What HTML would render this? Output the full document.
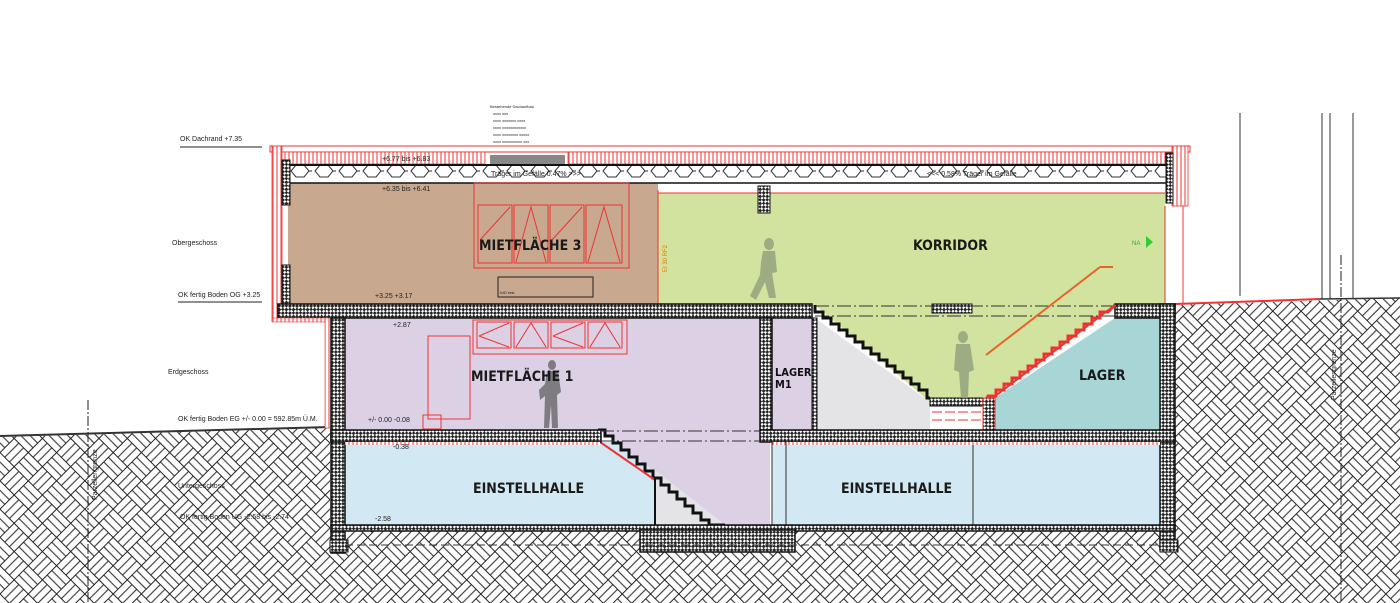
<!DOCTYPE html>
<html><head><meta charset="utf-8"><style>
html,body{margin:0;padding:0;background:#fff;}
svg{display:block;font-family:"Liberation Sans",sans-serif;}
.lb{font-size:7px;fill:#222}
.rm{font-family:"DejaVu Sans Condensed","Liberation Sans",sans-serif;font-size:14px;font-weight:bold;fill:#1a1a1a}
</style></head><body>
<svg width="1400" height="603" viewBox="0 0 1400 603" xmlns="http://www.w3.org/2000/svg">
<defs>
<pattern id="earth" width="40" height="40" patternUnits="userSpaceOnUse" patternTransform="rotate(45)">
<rect width="40" height="40" fill="#fff"/>
<g stroke="#222" stroke-width="1" fill="none">
<rect x="0" y="0" width="20" height="20"/><rect x="20" y="20" width="20" height="20"/>
<rect x="20" y="0" width="20" height="20"/><rect x="0" y="20" width="20" height="20"/>
<line x1="0" y1="6.7" x2="20" y2="6.7"/><line x1="0" y1="13.3" x2="20" y2="13.3"/>
<line x1="20" y1="26.7" x2="40" y2="26.7"/><line x1="20" y1="33.3" x2="40" y2="33.3"/>
<line x1="26.7" y1="0" x2="26.7" y2="20"/><line x1="33.3" y1="0" x2="33.3" y2="20"/>
<line x1="6.7" y1="20" x2="6.7" y2="40"/><line x1="13.3" y1="20" x2="13.3" y2="40"/>
</g></pattern>
<pattern id="conc" width="5" height="5" patternUnits="userSpaceOnUse" patternTransform="rotate(45)">
<rect width="5" height="5" fill="#fff"/><rect width="2.8" height="2.8" fill="#222"/><rect x="2.5" y="2.5" width="2.8" height="2.8" fill="#222"/>
</pattern>
<pattern id="ins" width="4" height="10" patternUnits="userSpaceOnUse">
<rect width="4" height="10" fill="#fff"/><line x1="1" y1="0" x2="1" y2="10" stroke="#e33" stroke-width="1"/>
</pattern>
<pattern id="hex" width="24" height="18" patternUnits="userSpaceOnUse">
<polygon points="3,9 8,3 16,3 21,9 16,15 8,15" fill="none" stroke="#333" stroke-width="1"/>
<line x1="21" y1="9" x2="27" y2="9" stroke="#333"/>
</pattern>
</defs>

<polygon points="0,437 330,428 330,603 0,603" fill="url(#earth)"/>
<polygon points="1175,305 1400,298 1400,603 1175,603" fill="url(#earth)"/>
<rect x="330" y="530" width="845" height="73" fill="url(#earth)"/>
<line x1="0" y1="436" x2="330" y2="427" stroke="#333" stroke-width="2"/>
<line x1="1175" y1="304" x2="1320" y2="299" stroke="#e33" stroke-width="2"/>
<line x1="1320" y1="299" x2="1400" y2="298" stroke="#333" stroke-width="1.5"/>

<rect x="288" y="183" width="370" height="121" fill="#c8a88e"/>
<polygon points="658,193 1165,193 1165,305 1115,305 985,402 930,402 815,305 658,305" fill="#d1e39e"/>
<rect x="345" y="318" width="415" height="112" fill="#dcd1e4"/>
<rect x="772" y="318" width="40" height="112" fill="#dcd1e4"/>
<polygon points="815,318 930,402 930,430 815,430" fill="#e4e4e7"/>
<polygon points="995,398 1115,318 1160,318 1160,430 995,430" fill="#a8d5d6"/>
<rect x="345" y="442" width="310" height="83" fill="#d2e8f2"/>
<polygon points="600,430 770,430 770,525 725,525" fill="#dcd1e4"/>
<polygon points="655,470 725,525 655,525" fill="#e4e4e7"/>
<rect x="772" y="442" width="390" height="83" fill="#d2e8f2"/>

<rect x="270" y="146" width="920" height="6" fill="none" stroke="#e33"/>
<rect x="280" y="152" width="205" height="12" fill="url(#ins)" stroke="#e33" stroke-width="0.8"/>
<rect x="568" y="152" width="600" height="12" fill="url(#ins)" stroke="#e33" stroke-width="0.8"/>
<rect x="490" y="155" width="75" height="9" fill="#888"/>
<rect x="288" y="165" width="880" height="18" fill="url(#hex)"/>
<line x1="288" y1="165" x2="1168" y2="165" stroke="#111" stroke-width="2"/>
<line x1="288" y1="183" x2="1168" y2="183" stroke="#111" stroke-width="1.5"/>
<rect x="660" y="184" width="508" height="9" fill="#fff"/>
<line x1="658" y1="193" x2="1165" y2="193" stroke="#e33"/>
<rect x="758" y="186" width="12" height="27" fill="url(#conc)" stroke="#111"/>
<rect x="272" y="146" width="10" height="175" fill="url(#ins)" stroke="#e33" stroke-width="0.8"/>
<rect x="282" y="160" width="8" height="45" fill="url(#conc)" stroke="#111"/>
<rect x="282" y="265" width="8" height="40" fill="url(#conc)" stroke="#111"/>
<rect x="1172" y="146" width="16" height="60" fill="url(#ins)" stroke="#e33" stroke-width="0.8"/>
<rect x="1166" y="153" width="7" height="50" fill="url(#conc)" stroke="#111"/>
<line x1="1165" y1="206" x2="1165" y2="305" stroke="#e33"/>
<line x1="1183" y1="206" x2="1183" y2="303" stroke="#e33"/>

<rect x="474" y="183" width="155" height="85" fill="none" stroke="#e33"/>
<g fill="none" stroke="#e33" stroke-width="1">
<rect x="478" y="205" width="34" height="58"/><rect x="514" y="205" width="34" height="58"/>
<rect x="550" y="205" width="34" height="58"/><rect x="586" y="205" width="36" height="58"/>
<path d="M480 240 L510 207 M516 262 L531 207 L546 262 M552 240 L582 207 M588 262 L604 207 L620 262"/>
</g>
<rect x="498" y="277" width="95" height="20" fill="none" stroke="#222"/>
<text x="500" y="294" font-size="3.5" fill="#222">KdD best.</text>
<line x1="658" y1="190" x2="658" y2="305" stroke="#e33"/>
<text x="0" y="0" font-size="6" fill="#d97a00" transform="translate(667,272) rotate(-90)">EI 30 RF2</text>

<rect x="278" y="304" width="534" height="14" fill="url(#conc)" stroke="#111" stroke-width="1.5"/>
<rect x="932" y="304" width="40" height="9" fill="url(#conc)" stroke="#111"/>
<rect x="1115" y="304" width="60" height="14" fill="url(#conc)" stroke="#111" stroke-width="1.5"/>
<line x1="815" y1="306" x2="1115" y2="306" stroke="#333" stroke-dasharray="14,3,2,3"/>
<line x1="815" y1="316" x2="1115" y2="316" stroke="#333" stroke-dasharray="14,3,2,3"/>
<rect x="272" y="318" width="55" height="4" fill="url(#ins)" stroke="#e33" stroke-width="0.6"/>
<rect x="325" y="318" width="6" height="110" fill="url(#ins)" stroke="#e33" stroke-width="0.6"/>

<path d="M815 305 L815 312 L823 312 L823 318 L831 318 L831 324 L839 324 L839 330 L847 330 L847 336 L855 336 L855 342 L863 342 L863 348 L871 348 L871 354 L879 354 L879 360 L887 360 L887 366 L895 366 L895 372 L903 372 L903 378 L911 378 L911 384 L919 384 L919 390 L927 390 L927 398 L930 398" fill="none" stroke="#111" stroke-width="3"/>
<path d="M1115 305 L1108 312 L1100 312 L1100 318 L1092 318 L1092 324 L1084 324 L1084 330 L1076 330 L1076 336 L1068 336 L1068 342 L1060 342 L1060 348 L1052 348 L1052 354 L1044 354 L1044 360 L1036 360 L1036 366 L1028 366 L1028 372 L1020 372 L1020 378 L1012 378 L1012 384 L1004 384 L1004 390 L996 390 L996 396 L988 396 L985 402" fill="none" stroke="#e33" stroke-width="3"/>
<line x1="1115" y1="305" x2="990" y2="400" stroke="#e33" stroke-width="2"/>
<rect x="930" y="398" width="55" height="8" fill="url(#conc)" stroke="#111"/>
<rect x="983" y="398" width="12" height="32" fill="url(#conc)" stroke="#e33"/>
<line x1="932" y1="412" x2="983" y2="412" stroke="#e33" stroke-dasharray="10,3"/>
<line x1="932" y1="420" x2="983" y2="420" stroke="#e33" stroke-dasharray="10,3"/>
<line x1="986" y1="355" x2="1100" y2="267" stroke="#e8632a" stroke-width="2"/>
<line x1="1100" y1="267" x2="1113" y2="267" stroke="#e8632a" stroke-width="2"/>
<path d="M598 430 L605 430 L605 436 L613 436 L613 443 L621 443 L621 450 L629 450 L629 457 L637 457 L637 464 L645 464 L645 471 L653 471 L653 478 L661 478 L661 485 L669 485 L669 492 L677 492 L677 499 L685 499 L685 506 L693 506 L693 513 L701 513 L701 520 L709 520 L709 525 L725 525" fill="none" stroke="#111" stroke-width="3"/>
<line x1="600" y1="442" x2="655" y2="480" stroke="#e33" stroke-width="2"/>
<line x1="655" y1="478" x2="655" y2="525" stroke="#111" stroke-width="2"/>

<rect x="331" y="318" width="14" height="235" fill="url(#conc)" stroke="#111" stroke-width="1.5"/>
<rect x="760" y="318" width="12" height="112" fill="url(#conc)" stroke="#111" stroke-width="1.5"/>
<rect x="812" y="318" width="5" height="112" fill="url(#conc)" stroke="#111"/>
<rect x="1160" y="304" width="15" height="246" fill="url(#conc)" stroke="#111" stroke-width="1.5"/>
<rect x="1160" y="540" width="18" height="12" fill="url(#conc)" stroke="#111"/>
<rect x="330" y="540" width="18" height="12" fill="url(#conc)" stroke="#111"/>
<rect x="331" y="430" width="270" height="12" fill="url(#conc)" stroke="#111" stroke-width="1.5"/>
<rect x="760" y="430" width="415" height="12" fill="url(#conc)" stroke="#111" stroke-width="1.5"/>
<line x1="600" y1="431" x2="760" y2="431" stroke="#333" stroke-dasharray="14,3,2,3"/>
<line x1="600" y1="441" x2="760" y2="441" stroke="#333" stroke-dasharray="14,3,2,3"/>
<rect x="345" y="442" width="255" height="3" fill="url(#ins)"/>
<rect x="772" y="442" width="388" height="3" fill="url(#ins)"/>
<line x1="772" y1="442" x2="772" y2="525" stroke="#333"/>
<line x1="786" y1="442" x2="786" y2="525" stroke="#333"/>
<line x1="973" y1="445" x2="973" y2="525" stroke="#333"/>
<rect x="331" y="525" width="844" height="6" fill="url(#conc)" stroke="#111" stroke-width="1.5"/>
<rect x="640" y="530" width="155" height="22" fill="url(#conc)" stroke="#111" stroke-width="1.5"/>
<line x1="345" y1="545" x2="1160" y2="545" stroke="#333" stroke-dasharray="8,4"/>

<g fill="none" stroke="#e33">
<rect x="473" y="320" width="154" height="34"/>
<rect x="477" y="322" width="34" height="26"/><rect x="514" y="322" width="34" height="26"/>
<rect x="551" y="322" width="34" height="26"/><rect x="588" y="322" width="34" height="26"/>
<path d="M479 336 L509 323 M479 336 L509 347 M516 347 L531 323 L546 347 M553 336 L583 323 M553 336 L583 347 M590 347 L605 323 L620 347"/>
<rect x="428" y="336" width="42" height="83"/>
<rect x="423" y="415" width="18" height="14"/>
</g>

<g fill="#8c9a7a" opacity="0.75">
<ellipse cx="769" cy="244" rx="5" ry="6"/>
<path d="M763 251 L775 251 L777 272 L772 273 L776 298 L769 298 L765 282 L756 300 L750 296 L760 275 L761 262 Z"/>
<ellipse cx="963" cy="337" rx="5" ry="6"/>
<path d="M956 344 L970 344 L974 370 L969 372 L968 398 L961 398 L959 372 L954 370 Z"/>
</g>
<g fill="#666" opacity="0.8">
<ellipse cx="552" cy="365" rx="4" ry="5"/>
<path d="M547 371 L558 371 L561 392 L557 395 L558 428 L552 428 L551 405 L549 428 L544 428 L545 396 L540 400 L539 390 L545 384 Z"/>
</g>

<text class="rm" x="479" y="250">MIETFLÄCHE 3</text>
<text class="rm" x="913" y="250">KORRIDOR</text>
<text class="rm" x="471" y="381">MIETFLÄCHE 1</text>
<text x="775" y="376" font-size="11" font-weight="bold" fill="#111" font-family="DejaVu Sans Condensed, Liberation Sans, sans-serif">LAGER</text>
<text x="775" y="388" font-size="11" font-weight="bold" fill="#111" font-family="DejaVu Sans Condensed, Liberation Sans, sans-serif">M1</text>
<text class="rm" x="1079" y="380">LAGER</text>
<text class="rm" x="473" y="493">EINSTELLHALLE</text>
<text class="rm" x="841" y="493">EINSTELLHALLE</text>
<text x="1132" y="245" font-size="6" fill="#3a3">NA</text>
<polygon points="1146,236 1153,242 1146,248" fill="#3c3"/>

<text class="lb" x="491" y="176" font-size="5">Träger im Gefälle 0.47% &gt;&gt;&gt;</text>
<text class="lb" x="927" y="176" font-size="5">&lt;&lt;&lt; 0.58% Träger im Gefälle</text>
<text class="lb" x="382" y="161" font-size="5">+6.77 bis +6.83</text>
<text class="lb" x="382" y="191" font-size="5">+6.35 bis +6.41</text>
<text class="lb" x="375" y="298" font-size="5">+3.25 +3.17</text>
<text class="lb" x="393" y="327" font-size="5">+2.87</text>
<text class="lb" x="368" y="422" font-size="5">+/- 0.00 -0.08</text>
<text class="lb" x="393" y="449" font-size="5">-0.38</text>
<text class="lb" x="375" y="521" font-size="5">-2.58</text>
<g font-size="4" fill="#222"><text x="490" y="108">Bestehende Dachaufbau</text><text x="493" y="115">xxxx xxx</text><text x="493" y="122">xxxx xxxxxxx xxxx</text><text x="493" y="129">xxxx xxxxxxxxxxxx</text><text x="493" y="136">xxxx xxxxxxxx xxxxx</text><text x="493" y="143">xxxx xxxxxxxxxx xxx</text></g>

<text class="lb" x="180" y="141" font-size="6">OK Dachrand +7.35</text>
<line x1="180" y1="147" x2="262" y2="147" stroke="#222"/>
<text class="lb" x="172" y="245" font-size="7.5">Obergeschoss</text>
<text class="lb" x="178" y="297" font-size="5.5">OK fertig Boden OG +3.25</text>
<line x1="178" y1="302" x2="262" y2="302" stroke="#222"/>
<text class="lb" x="168" y="374" font-size="7.5">Erdgeschoss</text>
<text class="lb" x="178" y="421" font-size="5">OK fertig Boden EG +/- 0.00 = 592.85m Ü.M.</text>
<text class="lb" x="178" y="488" font-size="7">Untergeschoss</text>
<text class="lb" x="180" y="519" font-size="5">OK fertig Boden UG -2.58 bis -2.74</text>

<line x1="88" y1="400" x2="88" y2="603" stroke="#222" stroke-dasharray="10,2,2,2"/>
<text x="0" y="0" font-size="7" fill="#222" transform="translate(97,500) rotate(-90)">Parzellengrenze</text>
<line x1="1341" y1="255" x2="1341" y2="603" stroke="#222" stroke-dasharray="10,2,2,2"/>
<text x="0" y="0" font-size="7" fill="#222" transform="translate(1336,400) rotate(-90)">Parzellengrenze</text>
<line x1="1240" y1="113" x2="1240" y2="296" stroke="#333"/>
<line x1="1322" y1="113" x2="1322" y2="299" stroke="#333"/>
<line x1="1330" y1="113" x2="1330" y2="299" stroke="#333"/>
<line x1="1353" y1="113" x2="1353" y2="299" stroke="#333"/>
</svg>
</body></html>
